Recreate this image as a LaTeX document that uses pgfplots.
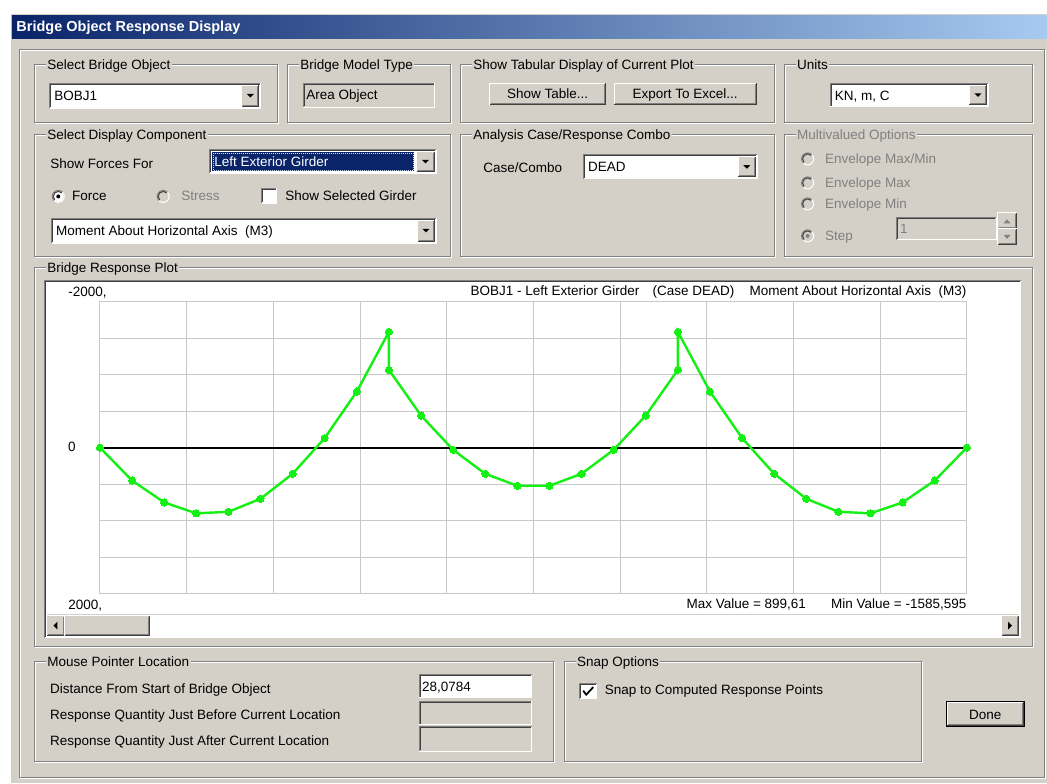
\documentclass[border=0pt]{standalone}
\usepackage{pgfplots}
\pgfplotsset{compat=1.18}
\usepackage{pgfplotstable}
\usepackage{fontspec}
\setmainfont{Liberation Sans}

\definecolor{dlg}{HTML}{D4D0C8}
\definecolor{shd}{HTML}{808080}
\definecolor{dk}{HTML}{404040}
\definecolor{sel}{HTML}{0A246A}
\definecolor{ttl}{HTML}{A6CAF0}
\definecolor{gridc}{HTML}{C8C8C8}
\definecolor{grn}{HTML}{14F014}

\pgfplotstableread{
x y
0 0
3.3333 450
6.6667 750
10 899.61
13.3333 878
16.6667 700
20 358
23.3333 -131
26.6667 -768
30 -1585.595
30 -1065
33.3333 -440
36.6667 30
40 358
43.3333 522
46.6667 522
50 358
53.3333 30
56.6667 -440
60 -1065
60 -1585.595
63.3333 -768
66.6667 -131
70 358
73.3333 700
76.6667 878
80 899.61
83.3333 750
86.6667 450
90 0
}\moment

% text: x, y(center), text
\newcommand\T[4][]{\node[anchor=base west,inner sep=0pt,#1] at (#2,{-(#3+5)}) {#4};}
% group box
\newcommand\gbox[6][black]{%
  \draw[white] ({#2+1},{-#3-1}) rectangle ({#4+1},{-#5-1});
  \draw[shd] (#2,-#3) rectangle (#4,-#5);
  \node[fill=dlg,inner sep=1.5pt,anchor=base west,text=#1] at ({#2+10.5},{-(#3+5)}) {#6};}
% sunken field
\newcommand\sunk[5]{%
  \fill[#5] (#1,-#2) rectangle (#3,-#4);
  \draw[shd] (#1,-#4) -- (#1,-#2) -- (#3,-#2);
  \draw[dk] ({#1+1},{-#4+1}) -- ({#1+1},{-#2-1}) -- ({#3-1},{-#2-1});
  \draw[white] (#1,-#4) -- (#3,-#4) -- (#3,-#2);}
% raised button
\newcommand\rais[4]{%
  \fill[dlg] (#1,-#2) rectangle (#3,-#4);
  \draw[white] (#1,-#4) -- (#1,-#2) -- (#3,-#2);
  \draw[shd] ({#1+1},{-#4+1}) -- ({#3-1},{-#4+1}) -- ({#3-1},{-#2-1});
  \draw[dk] (#1,-#4) -- (#3,-#4) -- (#3,-#2);}
% drop-down button
\newcommand\ddbtn[4]{%
  \rais{#1}{#2}{#3}{#4}%
  \pgfmathsetmacro\cx{(#1+#3)/2}\pgfmathsetmacro\cy{-(#2+#4)/2}%
  \fill[black] ({\cx-3.5},{\cy+1.8}) -- ({\cx+3.5},{\cy+1.8}) -- (\cx,{\cy-1.8}) -- cycle;}
% combo box
\newcommand\combo[5]{%
  \sunk{#1}{#2}{#3}{#4}{white}%
  \pgfmathsetmacro\bl{#3-19}\pgfmathsetmacro\bt{#2+2}\pgfmathsetmacro\br{#3-2}\pgfmathsetmacro\bb{#4-2}%
  \ddbtn{\bl}{\bt}{\br}{\bb}%
  \pgfmathsetmacro\ty{(#2+#4)/2}%
  \T{#1+4}{\ty}{#5}}
% radio
\newcommand\radio[4]{%
  \fill[#3] (#1,-#2) circle (5.5);
  \draw[shd] (#1,-#2) ++(45:6) arc (45:225:6);
  \draw[white] (#1,-#2) ++(225:6) arc (225:405:6);
  \draw[dk] (#1,-#2) ++(45:5) arc (45:225:5);
  \path[fill=#4] (#1,-#2) circle (2);}

\begin{document}
\begin{tikzpicture}[x=1pt,y=1pt,line width=1pt,font=\fontsize{13.5}{16}\selectfont]
\fill[white] (0,0) rectangle (1047,-783);
% window
\fill[dlg] (10,-13) rectangle (1047,-783);
\draw[white] (10.5,-783) -- (10.5,-13.5) -- (1047,-13.5);
\shade[left color=sel,right color=ttl] (12,-15.5) rectangle (1047,-39);
\node[anchor=base west,inner sep=0pt,text=white,font=\fontsize{14.5}{16}\selectfont\bfseries] at (16,-32) {Bridge Object Response Display};
\draw[white] (21,-51) rectangle (1046,-779);
\draw[shd] (20,-50) rectangle (1045,-778);

% group boxes
\gbox{35}{65}{278}{123}{Select Bridge Object}
\gbox{288}{65}{451}{123}{Bridge Model Type}
\gbox{461}{65}{775}{123}{Show Tabular Display of Current Plot}
\gbox{785}{65}{1033}{123}{Units}
\gbox{35}{135}{451}{257}{Select Display Component}
\gbox{461}{135}{775}{257}{Analysis Case/Response Combo}
\gbox[shd]{785}{135}{1033}{257}{Multivalued Options}
\gbox{35}{268}{1033}{647}{Bridge Response Plot}
\gbox{35}{662}{554}{762}{Mouse Pointer Location}
\gbox{565}{662}{922}{762}{Snap Options}

% row 1 widgets
\combo{50}{83.3}{261}{108.3}{BOBJ1}
\sunk{303.3}{83.3}{435}{107.3}{dlg}
\T{306}{95}{Area Object}
\rais{490}{83.3}{606}{105}
\node[anchor=base,inner sep=0pt] at (548,-99) {Show Table...};
\rais{614.5}{83.3}{756.5}{105}
\node[anchor=base,inner sep=0pt] at (685.5,-99) {Export To Excel...};
\combo{830.8}{83.3}{988.9}{107}{KN, m, C}

% display component
\T{50}{163.3}{Show Forces For}
\sunk{210}{150}{436.7}{173.3}{white}
\fill[sel] (212,-152) rectangle (414.5,-171.3);
\draw[ttl!60!white,line width=0.8pt,dash pattern=on 1pt off 1pt] (213,-153) rectangle (413.5,-170.3);
\T[text=white]{214}{162}{Left Exterior Girder}
\ddbtn{416.7}{152}{434.7}{171.3}
\radio{58.3}{196.5}{white}{black}
\T{71.7}{196}{Force}
\radio{163.3}{196.5}{dlg}{none}
\T[text=shd]{181}{196}{Stress}
\sunk{261.7}{188.3}{276.7}{203.3}{white}
\T{285}{196}{Show Selected Girder}
\combo{51.7}{218.3}{436.7}{243.3}{Moment About Horizontal Axis\hspace{0.55em}(M3)}

% analysis case
\T{483}{168}{Case/Combo}
\combo{584}{155}{757.7}{179}{DEAD}

% multivalued
\radio{808}{159}{dlg}{none}
\T[text=shd]{825}{159}{Envelope Max/Min}
\radio{808}{183}{dlg}{none}
\T[text=shd]{825}{183}{Envelope Max}
\radio{808}{204}{dlg}{none}
\T[text=shd]{825}{204}{Envelope Min}
\radio{808}{236}{dlg}{shd}
\T[text=shd]{825}{236}{Step}
\sunk{897}{218}{996.5}{240}{dlg}
\T[text=shd]{900}{229}{1}
\rais{998}{213}{1017}{229}
\fill[shd] (1004,-223.5) -- (1011,-223.5) -- (1007.5,-219.5) -- cycle;
\rais{998}{229}{1017}{245}
\fill[shd] (1004,-235) -- (1011,-235) -- (1007.5,-239) -- cycle;

% plot frame and scrollbar
\sunk{45}{281}{1021}{638}{white}
\draw[dlg] (47,-614.5) -- (1019,-614.5);
\rais{47}{616}{65}{636}
\fill[black] (53.5,-626) -- (57.5,-622) -- (57.5,-630) -- cycle;
\rais{65}{616}{150}{636}
\rais{1002}{616}{1019}{636}
\fill[black] (1012.5,-626) -- (1008.5,-622) -- (1008.5,-630) -- cycle;

\begin{axis}[at={(533.65pt,-447.85pt)}, anchor=center, scale only axis,
  width=867.3pt, height=292.3pt,
  xmin=0, xmax=90, ymin=-2000, ymax=2000, y dir=reverse,
  xtick={0,9,...,90}, ytick={-2000,-1500,...,2000},
  xticklabels={}, yticklabels={},
  tick label style={opacity=0}, major tick length=0pt,
  grid=major, major grid style={draw=gridc,line width=1pt},
  axis line style={draw=gridc,line width=1pt}, clip=false]
\addplot[black,line width=2.2pt,forget plot] coordinates {(0,0) (90,0)};
\addplot[grn,line width=2.4pt,mark=*,mark size=3.6pt,
  mark options={fill=grn,draw=grn,line width=0pt}] table {\moment};
\end{axis}

% plot texts
\T{68.3}{291.7}{-2000,}
\T{68}{446.7}{0}
\T{68.3}{605}{2000,}
\T{470.7}{291}{BOBJ1 - Left Exterior Girder}
\T{652.7}{291}{(Case DEAD)}
\node[anchor=base east,inner sep=0pt] at (967,-296) {Moment About Horizontal Axis\hspace{0.55em}(M3)};
\T{686.7}{604}{Max Value = 899,61}
\node[anchor=base east,inner sep=0pt] at (967,-609) {Min Value = -1585,595};

% mouse pointer
\T{50}{689}{Distance From Start of Bridge Object}
\T{50}{715}{Response Quantity Just Before Current Location}
\T{50}{741}{Response Quantity Just After Current Location}
\sunk{419.6}{675}{532}{698}{white}
\T{422}{686.5}{28,0784}
\sunk{419.6}{701.7}{532}{725}{dlg}
\sunk{419.6}{727}{532}{751.7}{dlg}

% snap
\sunk{580}{684}{597}{699}{white}
\draw[black,line width=1.8pt] (583.5,-691) -- (586.5,-695) -- (593.5,-687.5);
\T{605}{690}{Snap to Computed Response Points}

% done
\draw[black] (946.7,-701.7) rectangle (1025,-727.3);
\rais{947.7}{702.7}{1024}{726.3}
\node[anchor=base,inner sep=0pt] at (985.8,-719.5) {Done};
\end{tikzpicture}
\end{document}
